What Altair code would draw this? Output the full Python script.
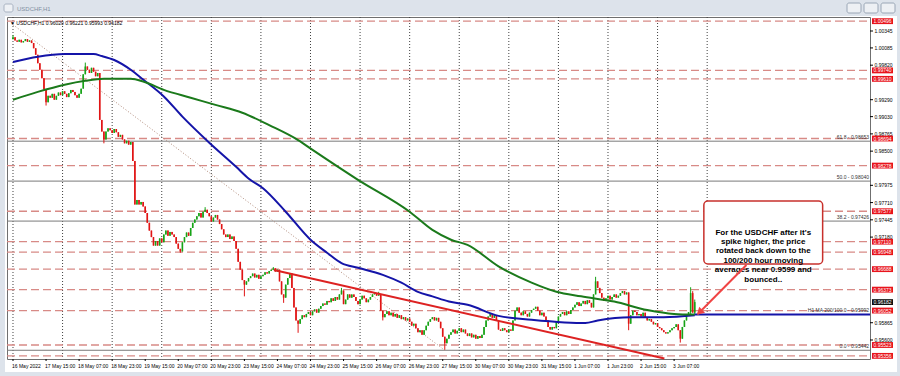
import altair as alt
import pandas as pd

# ---------------- data ----------------
first_open = 1.0022
closes = [
    1.0025, 1.0020, 1.0018, 1.0021, 1.0017, 1.0019, 1.0022, 1.0018, 1.0020, 1.0016,
    1.0008, 0.9998, 0.9985, 0.9975, 0.9962, 0.9945, 0.9925, 0.9935, 0.9932, 0.9938,
    0.9929, 0.9935, 0.9940, 0.9936, 0.9942, 0.9938, 0.9933, 0.9939, 0.9944, 0.9941,
    0.9936, 0.9932, 0.9938, 0.9946, 0.9968, 0.9980, 0.9975, 0.9970, 0.9978, 0.9972,
    0.9965, 0.9970, 0.9898, 0.9880, 0.9868, 0.9880, 0.9885, 0.9882, 0.9878, 0.9884,
    0.9879, 0.9872, 0.9875, 0.9868, 0.9862, 0.9866, 0.9860, 0.9864, 0.9835, 0.9768,
    0.9775, 0.9768, 0.9772, 0.9765, 0.9755, 0.9740, 0.9728, 0.9718, 0.9705, 0.9712,
    0.9705, 0.9716, 0.9710, 0.9722, 0.9728, 0.9720, 0.9726, 0.9722, 0.9718, 0.9708,
    0.9700, 0.9696, 0.9710, 0.9718, 0.9725, 0.9720, 0.9732, 0.9740, 0.9745, 0.9750,
    0.9755, 0.9748, 0.9757, 0.9760, 0.9755, 0.9750, 0.9742, 0.9748, 0.9752, 0.9745,
    0.9738, 0.9730, 0.9722, 0.9718, 0.9722, 0.9715, 0.9719, 0.9712, 0.9700, 0.9680,
    0.9668, 0.9652, 0.9645, 0.9650, 0.9655, 0.9658, 0.9662, 0.9656, 0.9660, 0.9654,
    0.9658, 0.9660, 0.9664, 0.9662, 0.9666, 0.9668, 0.9670, 0.9665, 0.9668, 0.9650,
    0.9630, 0.9625, 0.9645, 0.9655, 0.9662, 0.9640, 0.9610, 0.9590, 0.9585, 0.9592,
    0.9598, 0.9595, 0.9600, 0.9603, 0.9598, 0.9604, 0.9607, 0.9602, 0.9608, 0.9612,
    0.9616, 0.9614, 0.9620, 0.9618, 0.9624, 0.9620, 0.9626, 0.9622, 0.9630, 0.9636,
    0.9615, 0.9622, 0.9630, 0.9625, 0.9630, 0.9626, 0.9620, 0.9615, 0.9622, 0.9628,
    0.9624, 0.9618, 0.9622, 0.9626, 0.9630, 0.9632, 0.9628, 0.9630, 0.9605, 0.9595,
    0.9600, 0.9604, 0.9598, 0.9602, 0.9596, 0.9600, 0.9594, 0.9598, 0.9592, 0.9595,
    0.9590, 0.9593, 0.9588, 0.9582, 0.9585, 0.9578, 0.9572, 0.9575, 0.9568, 0.9575,
    0.9582, 0.9588, 0.9592, 0.9595, 0.9590, 0.9594, 0.9588, 0.9578, 0.9565, 0.9555,
    0.9562, 0.9568, 0.9572, 0.9576, 0.9570, 0.9574, 0.9578, 0.9572, 0.9576, 0.9570,
    0.9566, 0.9570, 0.9564, 0.9568, 0.9562, 0.9566, 0.9563, 0.9568, 0.9580, 0.9590,
    0.9596, 0.9600, 0.9594, 0.9598, 0.9590, 0.9576, 0.9574, 0.9578, 0.9575, 0.9572,
    0.9576, 0.9574, 0.9590, 0.9605, 0.9610, 0.9602, 0.9598, 0.9604, 0.9600, 0.9596,
    0.9602, 0.9606, 0.9608, 0.9611, 0.9605, 0.9598, 0.9602, 0.9596, 0.9590, 0.9580,
    0.9576, 0.9580, 0.9578, 0.9588, 0.9596, 0.9600, 0.9603, 0.9598, 0.9604, 0.9600,
    0.9606, 0.9610, 0.9614, 0.9618, 0.9612, 0.9616, 0.9620, 0.9615, 0.9621, 0.9617,
    0.9610, 0.9630, 0.9650, 0.9640, 0.9632, 0.9625, 0.9620, 0.9624, 0.9628, 0.9622,
    0.9626, 0.9630, 0.9625, 0.9628, 0.9632, 0.9635, 0.9630, 0.9633, 0.9585, 0.9598,
    0.9605, 0.9603, 0.9598, 0.9600, 0.9596, 0.9602, 0.9595, 0.9590, 0.9592, 0.9588,
    0.9584, 0.9586, 0.9580, 0.9578, 0.9575, 0.9572, 0.9570, 0.9572, 0.9575, 0.9578,
    0.9580, 0.9584, 0.9575, 0.9562, 0.9580, 0.9590, 0.9598, 0.9603, 0.9632, 0.9602,
    0.96182,
]
spike_highs = {0: 1.0028, 35: 0.9986, 93: 0.9764, 126: 0.9672, 159: 0.9640,
               177: 0.9634, 282: 0.9657, 328: 0.9641, 329: 0.9635, 330: 0.96221}
spike_lows = {16: 0.9920, 44: 0.9862, 81: 0.9694, 112: 0.9627, 131: 0.9617,
              138: 0.9571, 179: 0.9590, 209: 0.9545, 298: 0.9575, 323: 0.9556,
              328: 0.9600, 330: 0.95993}

time_labels = ["16 May 2022", "17 May 15:00", "18 May 07:00", "18 May 23:00",
               "19 May 15:00", "20 May 07:00", "20 May 23:00", "23 May 15:00",
               "24 May 07:00", "24 May 23:00", "25 May 15:00", "26 May 07:00",
               "26 May 23:00", "27 May 15:00", "30 May 07:00", "30 May 23:00",
               "31 May 15:00", "1 Jun 07:00", "1 Jun 23:00", "2 Jun 15:00",
               "3 Jun 07:00"]
time_label_bars = [0, 16, 32, 48, 64, 80, 96, 112, 128, 144, 160, 176, 192, 208,
                   224, 240, 256, 272, 288, 304, 320]
grid_bars = [0, 24, 48, 72, 96, 120, 144, 168, 192, 216, 240, 264, 288, 312, 336]

# price scale labels that are not hidden behind the level tags
price_ticks = [1.00345, 1.00085, 0.99820, 0.99290, 0.99030, 0.98765,
               0.98500, 0.97975, 0.97710, 0.97445, 0.97180, 0.95865, 0.95600]
red_levels = [1.00496, 0.99740, 0.99610, 0.98694, 0.98278, 0.97577, 0.97110,
              0.96948, 0.96688, 0.96373, 0.96052, 0.95523, 0.95356]
fib_levels = [0.98653, 0.98040, 0.97426, 0.95442]
fib_texts = ["61.8 - 0.98653", "50.0 - 0.98040", "38.2 - 0.97426", "0.0 - 0.95442"]
ma_level = 0.95992
ma_text = "H1 MA 200/100.0 - 0.95992"
last_price = 0.96182
info_text = "\u25bc USDCHF,H1  0.96020 0.96221 0.95993 0.96182"

blue_i = [0, 12, 25, 39, 43, 49, 57, 63, 73, 82, 95, 108, 114, 121, 132, 144, 152,
          159, 167, 179, 188, 196, 203, 211, 220, 235, 251, 267, 277, 283, 299, 315, 330]
blue_p = [0.9987, 0.9995, 0.9999, 0.9999, 0.9996, 0.9990, 0.9975, 0.9960, 0.9934,
          0.9903, 0.9863, 0.9826, 0.9808, 0.9793, 0.9757, 0.9714, 0.9694, 0.9678,
          0.9671, 0.9660, 0.9648, 0.9634, 0.9627, 0.9619, 0.9614, 0.9597, 0.9591,
          0.9587, 0.9586, 0.9590, 0.9595, 0.9595, 0.9598]
green_i = [0, 12, 25, 35, 44, 57, 63, 73, 86, 98, 111, 124, 138, 145, 167, 192, 203,
           212, 220, 235, 251, 263, 275, 291, 307, 320, 330]
green_p = [0.9929, 0.9941, 0.9952, 0.9958, 0.9961, 0.9961, 0.9957, 0.9944, 0.9932,
           0.9921, 0.9909, 0.9890, 0.9867, 0.9852, 0.9806, 0.9757, 0.9729, 0.9714,
           0.9706, 0.9673, 0.9648, 0.9634, 0.9627, 0.9619, 0.9606, 0.9600, 0.9599]

trend_i = [126.3, 315.3]
trend_p = [0.96675, 0.95316]
diag_i = [0, 209]
diag_p = [1.00442, 0.95442]

note_lines = ["For the USDCHF after it's", "spike higher, the price",
              "rotated back down to the", "100/200 hour moving",
              "averages near 0.9599 and", "bounced.."]
note_box = {"i1": 334.4, "i2": 391.9, "p1": 0.97734, "p2": 0.96767}
arrow_i = [355, 331.5]
arrow_p = [0.96752, 0.96000]

# ---------------- tables ----------------
rows = []
prev = first_open
for k, c in enumerate(closes):
    o = prev
    h = max(o, c, spike_highs.get(k, c))
    lo = min(o, c, spike_lows.get(k, c))
    rows.append(dict(i=k, o=o, c=c, h=h, l=lo, d="up" if c >= o else "down"))
    prev = c
candles = pd.DataFrame(rows)

W, H = 863, 342
FONT = "Liberation Sans"
xs = alt.Scale(domain=[-0.48, 412.4], nice=False, zero=False)
ys = alt.Scale(domain=[0.95308, 1.00560], nice=False, zero=False)


def X(f):
    return alt.X(f, scale=xs, axis=None)


def Y(f):
    return alt.Y(f, scale=ys, axis=None)


dummy = pd.DataFrame({"a": [0]})

# window frame
frame = [
    alt.Chart(dummy).mark_rect(color="#dde3eb").encode(
        x=alt.value(-7), x2=alt.value(893), y=alt.value(-17), y2=alt.value(-1)),
    alt.Chart(dummy).mark_rect(color="#dde3eb").encode(
        x=alt.value(-7), x2=alt.value(-2), y=alt.value(-17), y2=alt.value(359)),
    alt.Chart(dummy).mark_rect(color="#dde3eb").encode(
        x=alt.value(890), x2=alt.value(893), y=alt.value(-17), y2=alt.value(359)),
    alt.Chart(dummy).mark_rect(color="#dde3eb").encode(
        x=alt.value(-7), x2=alt.value(893), y=alt.value(355), y2=alt.value(359)),
    alt.Chart(dummy).mark_rect(fill="#eef1f5", stroke="#a9b3c2", cornerRadius=2).encode(
        x=alt.value(-3), x2=alt.value(6), y=alt.value(-13), y2=alt.value(-5)),
    alt.Chart(dummy).mark_text(text="USDCHF,H1", font=FONT, fontSize=6, color="#8391a3",
                               align="left", baseline="middle").encode(
        x=alt.value(10), y=alt.value(-8)),
]
for bx in (840, 857, 874):
    frame.append(alt.Chart(dummy).mark_rect(fill="#edf0f4", stroke="#9aa6b6",
                                            cornerRadius=2).encode(
        x=alt.value(bx), x2=alt.value(bx + 14), y=alt.value(-14), y2=alt.value(-4)))

# axes drawn as marks
tdf = pd.DataFrame({"i": time_label_bars, "t": time_labels})
time_ticks = alt.Chart(tdf).mark_rule(color="black").encode(
    x=X("i:Q"), y=alt.value(H), y2=alt.value(H + 2))
time_text = alt.Chart(tdf).mark_text(font=FONT, fontSize=5, color="black", align="left",
                                     baseline="middle", dx=-1).encode(
    x=X("i:Q"), y=alt.value(H + 7), text="t:N")
pdf = pd.DataFrame({"p": price_ticks, "t": [f"{v:.5f}" for v in price_ticks]})
price_tick_marks = alt.Chart(pdf).mark_rule(color="black").encode(
    y=Y("p:Q"), x=alt.value(W), x2=alt.value(W + 3))
price_text = alt.Chart(pdf).mark_text(font=FONT, fontSize=5, color="black", align="left",
                                      baseline="middle").encode(
    y=Y("p:Q"), x=alt.value(W + 4.5), text="t:N")

grid = alt.Chart(pd.DataFrame({"g": grid_bars})).mark_rule(
    color="#404040", strokeDash=[1, 2], strokeWidth=1).encode(
    x=X("g:Q"), y=alt.value(0), y2=alt.value(H))

fib = alt.Chart(pd.DataFrame({"p": fib_levels, "t": fib_texts}))
fib_lines = fib.mark_rule(color="#7a7a7a", strokeWidth=1).encode(
    y=Y("p:Q"), x=alt.value(0), x2=alt.value(W))
fib_labels = fib.mark_text(font=FONT, fontSize=5, color="#333333", align="right",
                           baseline="bottom", dy=-1).encode(
    y=Y("p:Q"), x=alt.value(W - 1), text="t:N")

red = pd.DataFrame({"p": red_levels})
red["top"] = red["p"] + 0.00045
red["bot"] = red["p"] - 0.00045
red["t"] = [f"{v:.5f}" for v in red_levels]
red_lines = alt.Chart(red).mark_rule(color="#d88a86", strokeDash=[8, 4],
                                     strokeWidth=1.3).encode(
    y=Y("p:Q"), x=alt.value(0), x2=alt.value(W))
red_boxes = alt.Chart(red).mark_rect(color="#e8141c").encode(
    y=Y("top:Q"), y2="bot:Q", x=alt.value(W + 2), x2=alt.value(W + 23))
red_text = alt.Chart(red).mark_text(font=FONT, fontSize=5, color="white", align="left",
                                    baseline="middle").encode(
    y=Y("p:Q"), x=alt.value(W + 3.5), text="t:N")

cur = pd.DataFrame({"p": [last_price], "top": [last_price + 0.00045],
                    "bot": [last_price - 0.00045], "t": [f"{last_price:.5f}"]})
cur_box = alt.Chart(cur).mark_rect(color="#101010").encode(
    y=Y("top:Q"), y2="bot:Q", x=alt.value(W + 2), x2=alt.value(W + 23))
cur_text = alt.Chart(cur).mark_text(font=FONT, fontSize=5, color="white", align="left",
                                    baseline="middle").encode(
    y=Y("p:Q"), x=alt.value(W + 3.5), text="t:N")

diag = alt.Chart(pd.DataFrame({"i": diag_i, "p": diag_p})).mark_line(
    color="#b08a7a", strokeDash=[1, 2], strokeWidth=1).encode(x=X("i:Q"), y=Y("p:Q"))

col = alt.Color("d:N", scale=alt.Scale(domain=["up", "down"], range=["#17a317", "#e01414"]),
                legend=None)
wicks = alt.Chart(candles).mark_rule(strokeWidth=1).encode(
    x=X("i:Q"), y=Y("l:Q"), y2="h:Q", color=col)
bodies = alt.Chart(candles).mark_bar(size=1.6).encode(
    x=X("i:Q"), y=Y("o:Q"), y2="c:Q", color=col)

trend = alt.Chart(pd.DataFrame({"i": trend_i, "p": trend_p})).mark_line(
    color="#dd2222", strokeWidth=2).encode(x=X("i:Q"), y=Y("p:Q"))

blue = alt.Chart(pd.DataFrame({"i": blue_i, "p": blue_p})).mark_line(
    color="#1414a8", strokeWidth=2, interpolate="monotone").encode(x=X("i:Q"), y=Y("p:Q"))
green = alt.Chart(pd.DataFrame({"i": green_i, "p": green_p})).mark_line(
    color="#1b7a1b", strokeWidth=2, interpolate="monotone").encode(x=X("i:Q"), y=Y("p:Q"))
ma_df = pd.DataFrame({"i": [blue_i[-1]], "p": [ma_level], "t": [ma_text]})
ma_line = alt.Chart(ma_df).mark_rule(color="#1414a8", strokeWidth=2).encode(
    x=X("i:Q"), x2=alt.value(W), y=Y("p:Q"))
ma_label = alt.Chart(ma_df).mark_text(font=FONT, fontSize=5, color="#333333",
                                      align="right", baseline="bottom", dy=-1).encode(
    y=Y("p:Q"), x=alt.value(W - 1), text="t:N")

info = alt.Chart(dummy).mark_text(text=info_text, font=FONT, fontSize=5, color="black",
                                  align="left", baseline="middle").encode(
    x=alt.value(3), y=alt.value(5.5))

box_df = pd.DataFrame([note_box])
note_rect = alt.Chart(box_df).mark_rect(fill="white", stroke="#c8302c", strokeWidth=1.5,
                                        cornerRadius=4).encode(
    x=X("i1:Q"), x2="i2:Q", y=Y("p1:Q"), y2="p2:Q")
note_df = pd.DataFrame({"i": [(note_box["i1"] + note_box["i2"]) / 2],
                        "p": [(note_box["p1"] + note_box["p2"]) / 2],
                        "t": ["\n".join(note_lines)]})
note_text = alt.Chart(note_df).mark_text(font=FONT, fontSize=8, fontWeight="bold",
                                         color="black", align="center", baseline="middle",
                                         lineBreak="\n", lineHeight=9.4).encode(
    x=X("i:Q"), y=Y("p:Q"), text="t:N")

arrow = alt.Chart(pd.DataFrame({"i": arrow_i, "p": arrow_p})).mark_line(
    color="#f04444", strokeWidth=2).encode(x=X("i:Q"), y=Y("p:Q"))
head = alt.Chart(pd.DataFrame({"i": [arrow_i[-1] + 0.8], "p": [arrow_p[-1] + 0.00025]})).mark_point(
    shape="triangle-up", angle=226, size=70, filled=True, color="#f04444", opacity=1).encode(
    x=X("i:Q"), y=Y("p:Q"))

chart = alt.layer(
    *frame, grid, fib_lines, red_lines, diag, wicks, bodies, trend, blue, green,
    ma_line, fib_labels, ma_label, time_ticks, time_text, price_tick_marks, price_text,
    red_boxes, red_text, cur_box, cur_text, info, note_rect, note_text, arrow, head,
).properties(
    width=W, height=H, autosize="none",
    padding={"left": 7, "top": 17, "right": 30, "bottom": 17},
    background="white",
).configure_view(stroke="#6f6f6f", strokeWidth=1)

chart.save("out.html", embed_options={"renderer": "svg", "actions": False})
